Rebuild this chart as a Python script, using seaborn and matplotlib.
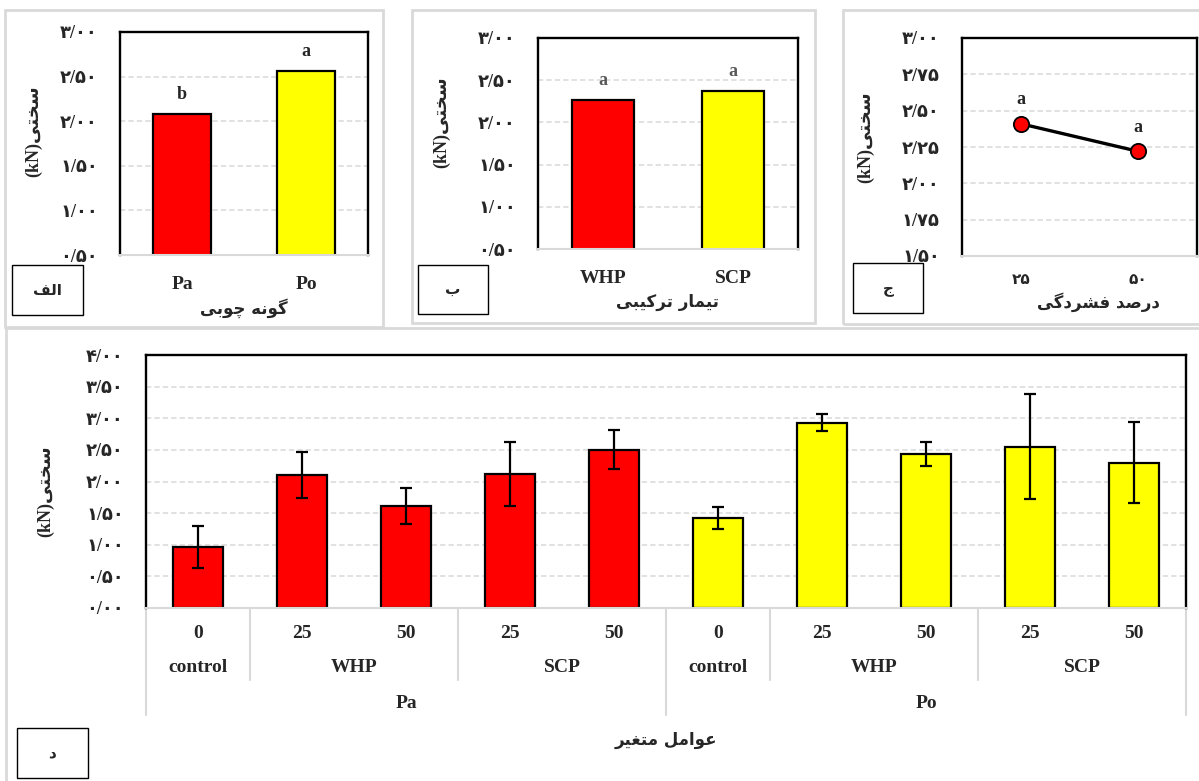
import numpy as np
import pandas as pd
import matplotlib
matplotlib.use('Agg')
import matplotlib.pyplot as plt
import matplotlib.transforms as mtransforms
from matplotlib.patches import Rectangle
from matplotlib.ticker import FuncFormatter, MultipleLocator
import seaborn as sns

# ── Data ───────────────────────────────────────────────────────────────────
species_labels  = ['Pa', 'Po']
species_means   = [2.08, 2.56]
species_letters = ['b', 'a']
species_colors  = ['#FF0000', '#FFFF00']

treat_labels  = ['WHP', 'SCP']
treat_means   = [2.26, 2.37]
treat_letters = ['a', 'a']

pct_labels  = ['۲۵', '۵۰']
pct_means   = [2.41, 2.22]
pct_letters = ['a', 'a']

combo_species = ['Pa'] * 5 + ['Po'] * 5
combo_treat   = ['control', 'WHP', 'WHP', 'SCP', 'SCP'] * 2
combo_level   = ['0', '25', '50', '25', '50'] * 2
combo_means   = [0.96, 2.10, 1.61, 2.12, 2.50, 1.42, 2.93, 2.44, 2.55, 2.30]
combo_errors  = [0.33, 0.36, 0.28, 0.50, 0.31, 0.17, 0.13, 0.19, 0.83, 0.64]

ylabel_fa  = 'سختی'
xlabel_sp  = 'گونه چوبی'
xlabel_tr  = 'تیمار ترکیبی'
xlabel_pct = 'درصد فشردگی'
xlabel_all = 'عوامل متغیر'
panel_tags = ['الف', 'ب', 'ج', 'د']

# ── Minimal Persian shaping (matplotlib has no complex text layout) ────────
FORMS = {  # isolated, final, initial, medial
    'ا': ('\uFE8D', '\uFE8E', None, None),
    'ب': ('\uFE8F', '\uFE90', '\uFE91', '\uFE92'),
    'ت': ('\uFE95', '\uFE96', '\uFE97', '\uFE98'),
    'ج': ('\uFE9D', '\uFE9E', '\uFE9F', '\uFEA0'),
    'خ': ('\uFEA5', '\uFEA6', '\uFEA7', '\uFEA8'),
    'د': ('\uFEA9', '\uFEAA', None, None),
    'ر': ('\uFEAD', '\uFEAE', None, None),
    'س': ('\uFEB1', '\uFEB2', '\uFEB3', '\uFEB4'),
    'ش': ('\uFEB5', '\uFEB6', '\uFEB7', '\uFEB8'),
    'ص': ('\uFEB9', '\uFEBA', '\uFEBB', '\uFEBC'),
    'ع': ('\uFEC9', '\uFECA', '\uFECB', '\uFECC'),
    'غ': ('\uFECD', '\uFECE', '\uFECF', '\uFED0'),
    'ف': ('\uFED1', '\uFED2', '\uFED3', '\uFED4'),
    'ل': ('\uFEDD', '\uFEDE', '\uFEDF', '\uFEE0'),
    'م': ('\uFEE1', '\uFEE2', '\uFEE3', '\uFEE4'),
    'ن': ('\uFEE5', '\uFEE6', '\uFEE7', '\uFEE8'),
    'ه': ('\uFEE9', '\uFEEA', '\uFEEB', '\uFEEC'),
    'و': ('\uFEED', '\uFEEE', None, None),
    'ی': ('\uFBFC', '\uFBFD', '\uFBFE', '\uFBFF'),
    'ک': ('\uFB8E', '\uFB8F', '\uFB90', '\uFB91'),
    'گ': ('\uFB92', '\uFB93', '\uFB94', '\uFB95'),
    'چ': ('\uFB7A', '\uFB7B', '\uFB7C', '\uFB7D'),
}


def fa(text):
    """Return Persian text in visual order with joined letter forms."""
    out = []
    for i, c in enumerate(text):
        if c not in FORMS:
            out.append(c)
            continue
        prev = text[i - 1] if i > 0 else None
        nxt = text[i + 1] if i + 1 < len(text) else None
        join_prev = prev in FORMS and FORMS[prev][2] is not None
        join_next = FORMS[c][2] is not None and nxt in FORMS
        iso, fin, ini, med = FORMS[c]
        if join_prev and join_next:
            out.append(med)
        elif join_prev:
            out.append(fin)
        elif join_next:
            out.append(ini)
        else:
            out.append(iso)
    return ''.join(reversed(out))


FA_DIGITS = str.maketrans('0123456789', '۰۱۲۳۴۵۶۷۸۹')
fa_tick = FuncFormatter(lambda v, _: f'{v:.2f}'.replace('.', '/').translate(FA_DIGITS))

# ── Style ──────────────────────────────────────────────────────────────────
sns.set_style('white')
plt.rcParams['font.family'] = ['Liberation Serif', 'DejaVu Sans']
plt.rcParams['font.weight'] = 'bold'

W, H = 1199, 781
fig = plt.figure(figsize=(W / 100, H / 100), dpi=100)

GRID = '#d9d9d9'
FA_FONT = ['DejaVu Sans']


def add_axes_px(l, t, r, b):
    return fig.add_axes([l / W, 1 - b / H, (r - l) / W, (b - t) / H])


def frame_px(l, t, r, b, color, lw):
    fig.patches.append(Rectangle((l / W, 1 - b / H), (r - l) / W, (b - t) / H,
                                 transform=fig.transFigure, fill=False,
                                 edgecolor=color, linewidth=lw, zorder=0))


def tag_box(l, t, r, b, text):
    frame_px(l, t, r, b, 'black', 1.0)
    fig.text((l + r) / 2 / W, 1 - (t + b) / 2 / H, fa(text), ha='center',
             va='center', fontsize=11, fontweight='bold', family=FA_FONT)


def style_axes(ax, ymin, ymax, step, ylab_x, ylab_y):
    ax.set_ylim(ymin, ymax)
    ax.yaxis.set_major_locator(MultipleLocator(step))
    ax.yaxis.set_major_formatter(fa_tick)
    ax.tick_params(axis='both', length=0)
    ax.tick_params(axis='y', pad=16, labelsize=13)
    for side in ['top', 'left', 'right']:
        ax.spines[side].set_color('black')
        ax.spines[side].set_linewidth(1.7)
    ax.spines['bottom'].set_color(GRID)
    ax.spines['bottom'].set_linewidth(1.5)
    ax.yaxis.grid(True, color=GRID, linestyle=(0, (3.5, 2)), linewidth=1.1)
    ax.set_axisbelow(True)
    ax.set_ylabel('(kN)' + fa(ylabel_fa), fontsize=13, fontweight='bold')
    ax.yaxis.set_label_coords(ylab_x, ylab_y)
    ax.yaxis.label.set_va('center')


def set_xlabel_fa(ax, text, x, y):
    ax.set_xlabel(fa(text), fontsize=12, fontweight='bold', family=FA_FONT)
    ax.xaxis.set_label_coords(x, y)
    ax.xaxis.label.set_va('center')


# ── Panel frames ───────────────────────────────────────────────────────────
frame_px(5, 10, 383, 327, GRID, 2)
frame_px(412, 10, 815, 323, GRID, 2)
frame_px(843, 10, 1210, 324, GRID, 2)
frame_px(6, 328, 1210, 790, GRID, 2)

# ── Panel 1: wood species ──────────────────────────────────────────────────
ax1 = add_axes_px(120, 32, 368, 255)
sns.barplot(x=species_labels, y=species_means, hue=species_labels,
            palette=dict(zip(species_labels, species_colors)), width=0.47,
            saturation=1, edgecolor='black', linewidth=1.6, legend=False, ax=ax1)
ax1.set_xlim(-0.5, 1.5)
style_axes(ax1, 0.5, 3.0, 0.5, -0.35, 0.556)
ax1.tick_params(axis='x', pad=15, labelsize=14)
for i, (v, s) in enumerate(zip(species_means, species_letters)):
    ax1.annotate(s, (i, v), xytext=(0, 14), textcoords='offset points',
                 ha='center', va='center', fontsize=13, fontweight='bold')
set_xlabel_fa(ax1, xlabel_sp, 0.5, -0.24)
tag_box(12, 265, 83, 315, panel_tags[0])

# ── Panel 2: combined treatment ────────────────────────────────────────────
ax2 = add_axes_px(538, 38, 798, 249)
sns.barplot(x=treat_labels, y=treat_means, hue=treat_labels,
            palette=dict(zip(treat_labels, species_colors)), width=0.48,
            saturation=1, edgecolor='black', linewidth=1.6, legend=False, ax=ax2)
ax2.set_xlim(-0.5, 1.5)
style_axes(ax2, 0.5, 3.0, 0.5, -0.37, 0.60)
ax2.tick_params(axis='x', pad=15, labelsize=14)
for i, (v, s) in enumerate(zip(treat_means, treat_letters)):
    ax2.annotate(s, (i, v), xytext=(0, 14.5), textcoords='offset points',
                 ha='center', va='center', fontsize=13, fontweight='bold',
                 color='#595959')
set_xlabel_fa(ax2, xlabel_tr, 0.5, -0.25)
tag_box(418, 265, 488, 314, panel_tags[1])

# ── Panel 3: compression percentage ────────────────────────────────────────
ax3 = add_axes_px(962, 38, 1197, 256)
sns.pointplot(x=pct_labels, y=pct_means, color='black', markers='o',
              linewidth=2.4, markersize=11, ax=ax3)
for line in ax3.lines:
    line.set_markerfacecolor('#FF0000')
    line.set_markeredgecolor('black')
    line.set_markeredgewidth(1.3)
ax3.set_xlim(-0.5, 1.5)
style_axes(ax3, 1.5, 3.0, 0.25, -0.41, 0.546)
ax3.tick_params(axis='x', pad=13, labelsize=11)
for i, (v, s) in enumerate(zip(pct_means, pct_letters)):
    ax3.annotate(s, (i, v), xytext=(0, 17.5), textcoords='offset points',
                 ha='center', va='center', fontsize=13, fontweight='bold')
set_xlabel_fa(ax3, xlabel_pct, 0.58, -0.21)
tag_box(853, 263, 923, 313, panel_tags[2])

# ── Bottom panel: all factor combinations ─────────────────────────────────
df = pd.DataFrame({'species': combo_species, 'treat': combo_treat,
                   'level': combo_level, 'mean': combo_means,
                   'err': combo_errors})
df['key'] = df['species'] + '|' + df['treat'] + '|' + df['level']

ax4 = add_axes_px(146, 355, 1186, 608)
sns.barplot(data=df, x='key', y='mean', hue='species', dodge=False,
            palette=dict(zip(species_labels, species_colors)), width=0.49,
            saturation=1, edgecolor='black', linewidth=1.6, legend=False, ax=ax4)
pos = np.arange(len(df))
ax4.errorbar(pos, df['mean'], yerr=df['err'], fmt='none', ecolor='black',
             elinewidth=1.6, capsize=4.5, capthick=1.6, zorder=5)
ax4.set_xlim(-0.5, len(df) - 0.5)
style_axes(ax4, 0.0, 4.0, 0.5, -0.097, 0.462)
ax4.set_xticklabels([])
ax4.set_xlabel('')

# hierarchical category labels under the axis
trans = mtransforms.blended_transform_factory(ax4.transData, ax4.transAxes)
lab_kw = dict(ha='center', va='center', fontsize=14, fontweight='bold',
              transform=trans, clip_on=False)
for i, lv in enumerate(df['level']):
    ax4.text(i, -0.099, lv, **lab_kw)

grp = (df['species'] + df['treat']).tolist()
start = 0
for i in range(1, len(df) + 1):
    if i == len(df) or grp[i] != grp[start]:
        ax4.text((start + i - 1) / 2, -0.237, df['treat'][start], **lab_kw)
        start = i
for sp in species_labels:
    idx = np.where(df['species'] == sp)[0]
    ax4.text(idx.mean(), -0.379, sp, **lab_kw)

# separator lines: long between species, short between treatments
for b in np.arange(-0.5, len(df)):
    left = int(b - 0.5) if b > -0.5 else None
    right = int(b + 0.5) if b + 0.5 < len(df) else None
    if left is None or right is None or combo_species[left] != combo_species[right]:
        y_end = -0.423
    elif grp[left] != grp[right]:
        y_end = -0.285
    else:
        continue
    ax4.plot([b, b], [0, y_end], color=GRID, linewidth=1.5,
             transform=trans, clip_on=False)

ax4.text(0.5, -(740 - 608) / 253, fa(xlabel_all), transform=ax4.transAxes,
         ha='center', va='center', fontsize=12, fontweight='bold',
         family=FA_FONT)
tag_box(17, 728, 88, 778, panel_tags[3])

fig.savefig('out.png', dpi=100, facecolor='white')
